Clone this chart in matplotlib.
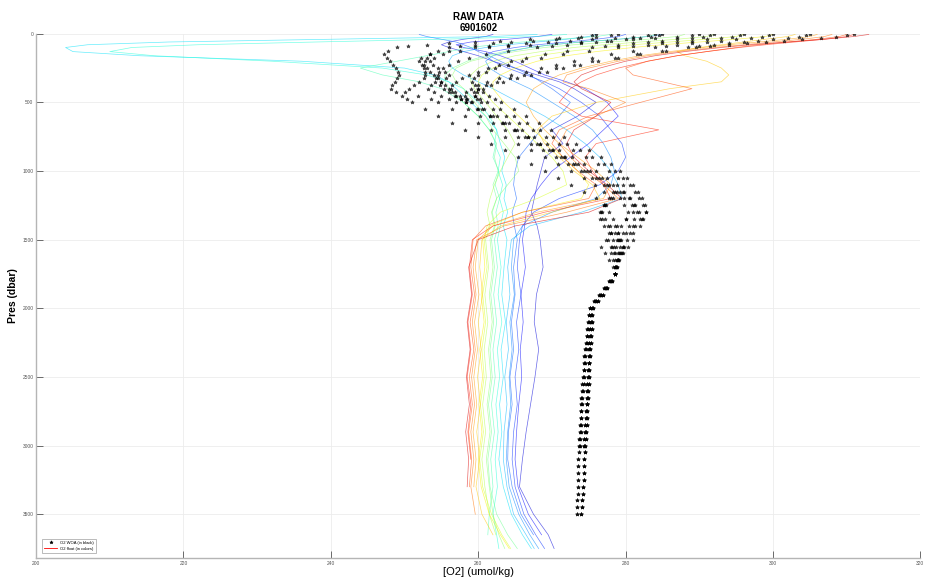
import numpy as np
import matplotlib
matplotlib.use("Agg")
import matplotlib.pyplot as plt
from matplotlib.lines import Line2D

nan = np.nan

# ---- float profiles (colored), pressure levels in dbar ----
float_pres = [5, 20, 40, 60, 80, 100, 130, 160, 200, 250, 300, 350, 400, 500, 600, 700,
              800, 900, 1000, 1100, 1200, 1300, 1400, 1500, 1700, 1900, 2100, 2300, 2500,
              2700, 2900, 3100, 3300, 3500, 3650, 3750]

flt_01 = [262, 261, 258, 256, 255, 256, 258, 260, 262, 265, 268, 271, 273, 276, 273.5, 270,
          271.5, 269, 268.5, 268, 267.6, 267.2, 268.0, 268.4, 268.8, 267.9, 267.6, 268.2, 267.7,
          267.1, 266.5, 266.0, 265.6, 267.5, 269.5, 270.3]
flt_02 = [270, 268, 264, 259, 257, 258, 261, 263, 265, 267, 269, 272, 274.5, 277.5, 279, 277,
          275, 272.5, 270, 268.5, 267.2, 266.5, 266.3, 266.0, 266.4, 265.8, 266.1, 265.7, 265.9,
          265.5, 265.2, 265.0, 265.4, 266.8, 268.6, nan]
flt_03 = [280, 279, 276, 272, 268, 265, 262, 261, 262, 264, 266.5, 269, 271, 274, 276.5, 278,
          279.5, 280, 279, 276.5, 271, 267.5, 266, 265.6, 265.3, 265.8, 265.2, 265.5, 265.0,
          265.3, 264.8, 264.6, 265.0, 266.2, 267.8, 269.0]
flt_04 = [252, 253, 255, 257, 258, 259, 260, 261.5, 263, 265, 267, 268.5, 270, 272.5, 271, 268.5,
          267, 265.5, 265, 264.8, 265.2, 264.6, 264.9, 265.3, 264.8, 265.0, 264.5, 264.8, 264.3,
          264.6, 264.1, 264.0, 264.6, 265.8, 267.5, nan]
flt_05 = [285, 283, 279, 274, 270, 267, 264, 262, 261, 261.5, 263, 265, 267, 270, 273, 275.5,
          277, 278, 278.5, 278, 276, 270, 266, 264.8, 264.5, 264.9, 264.3, 264.6, 264.2,
          264.4, 264.0, 263.8, 264.2, 265.5, 267.0, 268.2]
flt_06 = [276, 275, 272, 268, 264, 261, 258, 256.5, 256, 256.5, 258, 260, 262, 265.5, 269, 272,
          274.5, 276.5, 278, 279, 279.5, 274, 267, 264.5, 264.0, 264.3, 263.8, 264.1, 263.6,
          263.9, 263.5, 263.4, 263.9, 264.8, 266.5, 267.6]
flt_07 = [268, 262, 240, 218, 207, 204, 205, 214, 236, 250, 254, 256, 257, 259, 261, 262.5,
          263, 263.6, 263.2, 263.8, 263.5, 264.0, 263.4, 263.9, 263.5, 263.2, 263.7, 263.1, 263.4,
          262.9, 263.2, 262.8, 263.4, 264.5, 266.0, 267.2]
flt_08 = [272, 268, 255, 238, 222, 213, 210, 216, 232, 247, 253, 256, 258, 260, 261.5, 262.5,
          262.2, 263, 262.7, 263.3, 262.9, 263.4, 263.0, 262.6, 263.1, 262.7, 263.2, 262.6, 262.9,
          262.4, 262.7, 262.3, 262.6, 262.0, 262.5, 262.8]
flt_09 = [278, 276, 271, 266, 262, 259, 256, 253, 249, 244, 247, 252, 255, 258, 260, 261.5,
          262.4, 262.0, 262.8, 262.3, 262.9, 262.4, 262.7, 262.2, 262.6, 262.1, 262.5, 262.0, 262.3,
          261.8, 262.2, 261.7, 262.0, 261.5, 261.3, nan]
flt_10 = [284, 283, 279, 274, 270, 267, 263.5, 261, 258.5, 256.5, 255.5, 255.5, 256, 258, 260, 261.5,
          262.5, 262.2, 262.7, 262.0, 262.5, 261.9, 262.3, 261.8, 262.2, 261.7, 262.1, 261.6, 261.9,
          261.4, 261.8, 261.3, 261.6, 262.5, 264.0, 265.3]
flt_11 = [288, 287, 283, 278, 273, 269, 265, 262, 259, 257, 256.5, 257, 258, 259.5, 261, 262,
          263.5, 265, 265.5, 264, 262.5, 261.8, 262.2, 261.6, 262.0, 261.5, 261.9, 261.4, 261.7,
          261.2, 261.6, 261.1, 261.5, 262.0, 262.8, 263.6]
flt_12 = [292, 291, 287, 282, 277, 273, 268.5, 265, 262, 260, 259, 259, 259.5, 261, 262.5, 264,
          265, 264, 263, 262.2, 261.6, 261.2, 261.6, 261.0, 261.4, 260.9, 261.3, 260.8, 261.1,
          260.6, 261.0, 260.5, 260.9, 261.5, 262.4, nan]
flt_13 = [296, 295, 291, 286, 281, 277, 272, 268, 264.5, 262, 260.5, 260, 260.5, 262, 264, 266,
          268, 270, 271.5, 272, 268, 263, 261.2, 260.8, 261.2, 260.6, 261.0, 260.5, 260.8,
          260.3, 260.7, 260.2, 260.6, 261.8, 263.2, 264.4]
flt_14 = [300, 299, 295, 290, 285, 281, 276, 272, 268, 265, 263, 262, 262, 263.5, 265.5, 267.5,
          269.5, 271.5, 273.5, 275, 274, 266, 261.5, 260.6, 260.9, 260.4, 260.8, 260.2, 260.6,
          260.1, 260.5, 260.0, 260.4, 261.5, 263.0, 264.2]
flt_15 = [303, 302, 299, 296, 293, 290, 287, 288, 291, 293, 294, 293, 286, 276, 270, 268,
          269, 271, 273, 275.5, 276.5, 270, 263, 260.5, 260.2, 260.6, 260.0, 260.4, 259.9,
          260.3, 259.8, 260.2, 259.7, 260.5, 262.0, nan]
flt_16 = [306, 305, 302, 298, 294, 290.5, 286, 282, 278, 274, 271, 269, 267.5, 266.5, 267.5, 269,
          271, 273.5, 276, 278, 277, 268, 262, 260.0, 259.6, 260.1, 259.5, 259.9, 259.4,
          259.8, 259.3, 259.7, 259.4, nan, nan, nan]
flt_17 = [308, 307, 304, 300, 296, 292, 287, 283, 279, 275, 272, 271.5, 275, 280, 276, 272,
          271, 272.5, 274.5, 277, 279, 272, 263.5, 259.8, 259.3, 259.7, 259.2, 259.6, 259.1,
          259.5, 259.0, 259.4, 259.0, 259.6, nan, nan]
flt_18 = [310, 309, 306, 302, 298, 295, 291, 287, 283, 280, 281, 285, 289, 282, 275, 271,
          270, 271.5, 273.5, 276, 275, 266, 261, 259.3, 259.0, 259.5, 258.9, 259.4, 258.8,
          259.2, 258.7, 259.1, 258.8, nan, nan, nan]
flt_19 = [311, 310, 307, 303, 299, 295.5, 291, 287, 283, 279, 276, 274, 272.5, 271, 274, 284.5,
          276, 274.5, 275.5, 277, 278, 269, 262, 259.2, 258.8, 259.2, 258.6, 259.0, 258.5,
          259.0, 258.6, 259.0, nan, nan, nan, nan]
flt_20 = [313, 311, 307, 302, 297, 293, 288, 284, 280, 276.5, 274, 273, 274, 278, 276, 273,
          272, 273, 275, 277.5, 279.5, 275, 265, 260.0, 258.7, 259.1, 258.5, 258.9, 258.4,
          258.8, 258.3, 258.7, 258.5, nan, nan, nan]

float_profiles = [flt_01, flt_02, flt_03, flt_04, flt_05, flt_06, flt_07, flt_08, flt_09, flt_10,
                  flt_11, flt_12, flt_13, flt_14, flt_15, flt_16, flt_17, flt_18, flt_19, flt_20]

# ---- WOA profiles (black stars) ----
woa_pres_upper = [0, 10, 20, 30, 40, 50, 60, 70, 80, 90, 100,
                  125, 150, 175, 200, 225, 250, 275, 300, 325, 350, 375, 400, 425, 450, 475, 500,
                  550, 600, 650, 700, 750, 800, 850, 900, 950, 1000, 1050, 1100, 1150, 1200,
                  1250, 1300, 1350, 1400, 1450, 1500, 1550, 1600, 1650, 1700, 1750]
woa_pres_deep = [1800, 1850, 1900, 1950, 2000, 2050, 2100, 2150, 2200, 2250, 2300, 2350, 2400,
                 2450, 2500, 2550, 2600, 2650, 2700, 2750, 2800, 2850, 2900, 2950, 3000,
                 3050, 3100, 3150, 3200, 3250, 3300, 3350, 3400, 3450, 3500]

woa_01 = [276, 275.5, 274, 271, 267, 263, 259.5, 256, 253, 250.5, 249,
          247.8, 247.2, 247.6, 248.0, 248.4, 248.8, 249.1, 249.3, 249.0, 248.7, 248.3, 248.1, 248.8, 249.6, 250.3, 251.0,
          252.8, 254.6, 256.4, 258.2, 260.0, 261.8, 263.6, 265.4, 267.2, 269.0, 270.8, 272.6, 274.4, 276.0,
          277.0, 277.8, 278.3, 278.6, 278.9, 279.1, 279.2, 279.1, 278.9, 278.7, 278.5]
woa_02 = [279, 278, 276, 273.5, 270.5, 267.5, 264.5, 262, 259.5, 257.5, 256,
          254.5, 253.5, 253.0, 252.8, 252.7, 252.7, 252.8, 252.8, 252.6, 252.0, 251.3, 250.6, 250.1, 251.8, 253.6, 254.6,
          256.4, 258.2, 260.0, 261.8, 263.6, 265.4, 267.2, 269.0, 270.8, 272.6, 274.3, 275.8, 277.0, 277.8,
          277.2, 276.5, 276.8, 277.6, 278.0, 277.3, 276.6, 277.2, 277.8, 278.3, 278.5]
woa_03 = [284, 283, 281, 278.5, 275.5, 272.5, 269.5, 266.5, 264, 261.5, 259.5,
          256, 253.5, 252.3, 251.9, 252.4, 253.0, 253.5, 254.0, 254.3, 254.2, 253.6, 253.2, 254.0, 255.0, 256.0, 257.0,
          258.6, 260.3, 262.0, 263.7, 265.4, 267.1, 268.8, 270.5, 272.2, 273.9, 275.5, 277.0, 278.3, 279.2,
          279.8, 280.3, 280.0, 279.4, 279.0, 279.4, 279.8, 279.5, 279.0, 278.7, 278.5]
woa_04 = [290, 289, 287, 284, 281, 277.5, 274, 270.5, 267, 264, 261.5,
          257.5, 255.2, 254.0, 253.5, 253.8, 254.6, 255.5, 256.0, 255.6, 255.0, 254.8, 255.3, 256.0, 256.8, 257.6, 258.4,
          260.0, 261.6, 263.2, 264.8, 266.4, 268.0, 269.6, 271.2, 272.8, 274.4, 276.0, 277.5, 278.8, 279.8,
          280.8, 281.8, 282.4, 282.0, 281.0, 280.2, 279.6, 279.3, 279.0, 278.8, 278.5]
woa_05 = [300, 299.5, 298.5, 297, 295, 293, 291, 289, 287, 285.5, 284,
          281, 278, 275.5, 273, 270.5, 268.5, 266.5, 264.5, 262.8, 261.2, 260.0, 259.0, 258.4, 258.2, 258.5, 259.2,
          260.8, 262.5, 264.2, 265.9, 267.6, 269.3, 271.0, 272.7, 274.4, 276.0, 277.5, 278.8, 279.8, 280.5,
          281.2, 281.0, 280.0, 278.8, 278.0, 277.6, 278.0, 278.4, 278.6, 278.6, 278.5]
woa_06 = [305, 304.5, 303.5, 302, 300, 298, 296, 294, 292, 290, 288.5,
          285, 281.5, 278.5, 275.5, 273, 270.5, 268.3, 266.2, 264.3, 262.5, 261.0, 260.0, 259.4, 259.6, 260.3, 261.2,
          263.0, 264.8, 266.6, 268.4, 270.2, 272.0, 273.8, 275.5, 277.1, 278.5, 279.7, 280.6, 281.3, 281.8,
          282.3, 282.7, 282.2, 281.3, 280.6, 281.0, 280.3, 279.6, 279.1, 278.8, 278.5]
woa_07 = [311, 310, 308.5, 306.5, 304, 301.5, 299, 296.5, 294, 291.5, 289.5,
          285.5, 282, 279, 276.3, 273.8, 271.5, 269.3, 267.2, 265.2, 263.4, 261.8, 260.6, 259.8, 259.5, 259.8, 260.4,
          262.0, 263.8, 265.6, 267.4, 269.2, 271.0, 272.8, 274.6, 276.3, 277.8, 279.0, 279.7, 279.2, 278.3,
          277.4, 276.8, 277.2, 277.9, 278.6, 279.2, 279.6, 279.4, 279.0, 278.7, 278.5]
woa_08 = [292, 291.5, 290.5, 289, 287, 285, 283, 281, 279, 277.2, 275.5,
          272, 269, 266.5, 264.5, 262.8, 261.3, 260.0, 258.8, 257.8, 257.0, 256.5, 256.3, 256.5, 257.0, 257.6, 258.3,
          259.9, 261.6, 263.3, 265.0, 266.7, 268.4, 270.1, 271.8, 273.5, 275.2, 276.8, 278.3, 279.6, 280.6,
          281.3, 281.6, 281.2, 280.4, 279.6, 278.8, 278.4, 278.6, 278.8, 278.7, 278.5]
woa_09 = [296, 295.5, 294.5, 293, 291, 289, 287, 285, 283, 281, 279,
          275, 271.5, 268.5, 266, 264, 262.3, 261.0, 260.0, 259.4, 259.2, 259.5, 260.0, 260.7, 261.5, 262.3, 263.1,
          264.8, 266.5, 268.2, 269.9, 271.6, 273.3, 275.0, 276.6, 278.0, 279.2, 280.2, 281.0, 281.7, 282.2,
          282.6, 282.7, 282.0, 281.0, 280.0, 279.0, 278.2, 278.0, 278.3, 278.5, 278.5]
woa_10 = [285, 284.5, 283.5, 282, 280, 278, 276, 274, 272, 270, 268,
          264, 261, 258.8, 257.2, 256.0, 255.2, 254.7, 254.5, 254.6, 255.0, 255.5, 256.1, 256.8, 257.5, 258.3, 259.0,
          260.5, 262.0, 263.6, 265.2, 266.8, 268.4, 270.0, 271.6, 273.2, 274.8, 276.4, 277.8, 278.6, 278.0,
          277.0, 276.6, 276.5, 277.0, 277.8, 278.3, 278.7, 278.9, 278.8, 278.6, 278.5]

woa_deep_a = [278.0, 277.4, 276.7, 276.0, 275.4, 275.3, 275.3, 275.2, 275.2, 275.1, 275.1, 275.0, 275.0,
              274.9, 274.9, 274.8, 274.8, 274.7, 274.7, 274.6, 274.6, 274.5, 274.5, 274.4, 274.4]
woa_deep_b = [277.8, 277.1, 276.4, 275.7, 275.2, 275.1, 275.0, 274.9, 274.8, 274.7, 274.6, 274.5, 274.5,
              274.4, 274.3, 274.3, 274.2, 274.1, 274.1, 274.0, 274.0, 273.9, 273.9, 273.8, 273.8]
woa_deep_c = [277.9, 277.2, 276.5, 275.8, 275.2, 275.0, 274.9, 274.8, 274.7, 274.6, 274.5, 274.4, 274.3,
              274.3, 274.2, 274.1, 274.1, 274.0, 274.0, 273.9, 273.9, 273.8, 273.8, 273.7, 273.7,
              273.7, 273.6, 273.6, 273.6, 273.5, 273.5, 273.5, 273.4, 273.4, 273.4]
woa_deep_d = [278.1, 277.5, 276.9, 276.2, 275.6, 275.5, 275.4, 275.4, 275.3, 275.3, 275.2, 275.2, 275.1,
              275.1, 275.0, 275.0, 274.9, 274.9, 274.8, 274.8, 274.7, 274.7, 274.6, 274.6, 274.5,
              274.5, 274.4, 274.4, 274.3, 274.3, 274.2, 274.2, 274.1, 274.1, 274.0]

woa_profiles = [(woa_01, woa_deep_b), (woa_02, woa_deep_b), (woa_03, woa_deep_a),
                (woa_04, woa_deep_c), (woa_05, woa_deep_a), (woa_06, woa_deep_c),
                (woa_07, woa_deep_d), (woa_08, woa_deep_a), (woa_09, woa_deep_d),
                (woa_10, woa_deep_d)]

x_ticks = [200, 220, 240, 260, 280, 300, 320]
y_ticks = [0, 500, 1000, 1500, 2000, 2500, 3000, 3500]

plt.rcParams["font.family"] = ["Liberation Sans", "DejaVu Sans"]

fig = plt.figure(figsize=(9.25, 5.82), dpi=100)
ax = fig.add_axes([0.039, 0.041, 0.956, 0.901])

cmap = plt.get_cmap("jet")
n = len(float_profiles)
for i, prof in enumerate(float_profiles):
    col = cmap(0.08 + 0.84 * i / (n - 1))
    ax.plot(prof, float_pres, "-", color=col, lw=0.5, alpha=0.6)

for upper, deep in woa_profiles:
    o2 = list(upper) + list(deep)
    pr = woa_pres_upper + woa_pres_deep[:len(deep)]
    ax.plot(o2, pr, "*", color="black", ms=2.8, mew=0.4, alpha=0.7, ls="none")

ax.set_xlim(200, 320)
ax.set_ylim(3820, 0)
ax.set_xticks(x_ticks)
ax.set_yticks(y_ticks)
ax.tick_params(direction="in", labelsize=3.5, colors="#555555", length=5, width=0.6, pad=2)
ax.grid(True, color="#ececec", lw=0.6)
ax.set_axisbelow(True)
for s in ["top", "right"]:
    ax.spines[s].set_visible(False)
for s in ["left", "bottom"]:
    ax.spines[s].set_color("#b5b5b5")
    ax.spines[s].set_linewidth(1.0)

ax.set_title("RAW DATA\n6901602", fontsize=7, fontweight="bold", pad=2, linespacing=1.1)
ax.set_xlabel("[O2] (umol/kg)", fontsize=8, labelpad=1)
ax.set_ylabel("Pres (dbar)", fontsize=7.5, fontweight="bold", labelpad=3)

handles = [Line2D([], [], marker="*", color="black", ls="none", ms=2.5, mew=0.4),
           Line2D([], [], color="red", lw=0.6)]
leg = ax.legend(handles, ["O2 WOA (in black)", "O2 float (in colors)"], loc="lower left",
                bbox_to_anchor=(0.007, 0.01), fontsize=3, frameon=True, fancybox=False,
                borderpad=0.5, handlelength=3, borderaxespad=0)
leg.get_frame().set_edgecolor("#888888")
leg.get_frame().set_linewidth(0.5)

fig.savefig("out.png", dpi=100)
